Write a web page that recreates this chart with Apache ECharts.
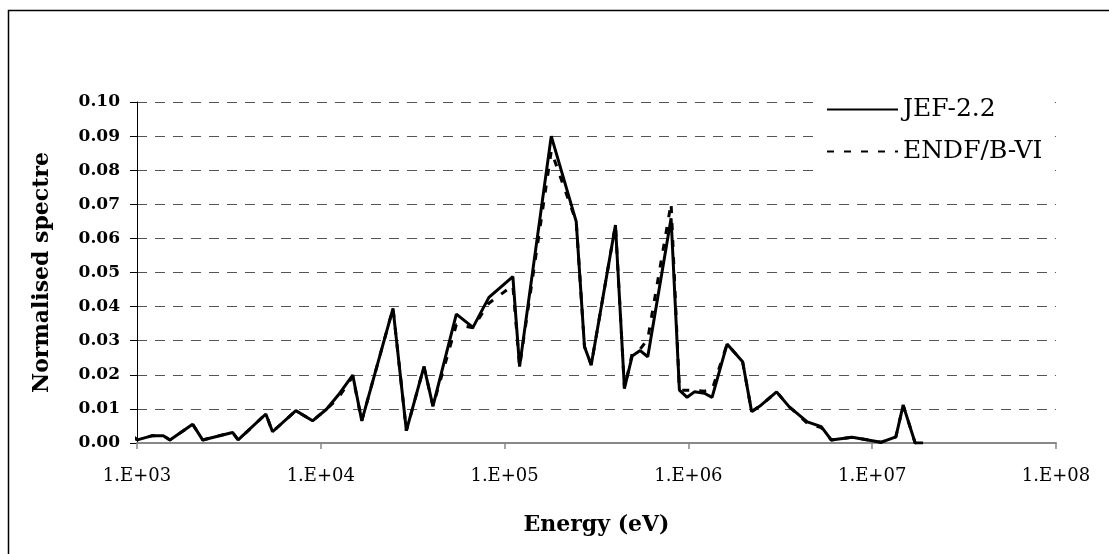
<!DOCTYPE html>
<html>
<head>
<meta charset="utf-8">
<script src="https://cdn.jsdelivr.net/npm/echarts@6/dist/echarts.min.js"></script>
<style>
  html, body { margin: 0; padding: 0; background: #fff; }
  #chart { width: 1109px; height: 554px; }
</style>
</head>
<body>
<div id="chart"></div>
<script>
// energy group points (eV)
var energy = [950, 1004, 1202, 1390, 1511, 2008, 2276, 3311, 3552, 5023,
  5464, 7315, 9015, 10737, 12417, 14925, 16710, 24714, 29220, 36420,
  40760, 54640, 67260, 82150, 110900, 120640, 179400, 245300, 272100, 296000,
  401000, 448800, 494300, 546400, 601000, 805000, 893400, 984000, 1078000, 1222000,
  1345000, 1623000, 1973000, 2208000, 2484000, 3019000, 3539000, 4434000, 5283000, 5984000,
  7787000, 11140000, 13450000, 14740000, 17130000, 18920000];

var jef = [0.0019, 0.0009, 0.0021, 0.0021, 0.0009, 0.0055, 0.0009, 0.0031, 0.0009, 0.0085,
  0.0033, 0.0095, 0.0065, 0.0099, 0.0140, 0.0199, 0.0065, 0.0395, 0.0036, 0.0224,
  0.0108, 0.0378, 0.0339, 0.0427, 0.0488, 0.0224, 0.0900, 0.0649, 0.0282, 0.0229,
  0.0639, 0.0160, 0.0255, 0.0271, 0.0253, 0.0659, 0.0155, 0.0134, 0.0150, 0.0146,
  0.0134, 0.0290, 0.0238, 0.0092, 0.0111, 0.0150, 0.0106, 0.0062, 0.0048, 0.0009,
  0.0017, 0.0002, 0.0018, 0.0111, 0.0000, 0.0000];

var endf = [0.0019, 0.0009, 0.0021, 0.0021, 0.0009, 0.0055, 0.0009, 0.0031, 0.0009, 0.0085,
  0.0033, 0.0095, 0.0065, 0.0099, 0.0131, 0.0195, 0.0065, 0.0395, 0.0036, 0.0224,
  0.0108, 0.0347, 0.0338, 0.0410, 0.0462, 0.0224, 0.0856, 0.0649, 0.0282, 0.0229,
  0.0639, 0.0160, 0.0262, 0.0275, 0.0305, 0.0703, 0.0155, 0.0155, 0.0154, 0.0152,
  0.0156, 0.0290, 0.0238, 0.0092, 0.0111, 0.0150, 0.0106, 0.0058, 0.0045, 0.0009,
  0.0017, 0.0002, 0.0018, 0.0111, 0.0000, 0.0000];

var seriesNames = ['JEF-2.2', 'ENDF/B-VI'];

function pairs(vals) {
    var out = [];
    for (var i = 0; i < energy.length; i++) {
        out.push([energy[i], vals[i]]);
    }
    return out;
}

var font = '"DejaVu Serif", "Liberation Serif", serif';
var chart = echarts.init(document.getElementById('chart'));

var option = {
    backgroundColor: '#fff',
    animation: false,
    grid: { left: 137, right: 53, top: 102, bottom: 111, containLabel: false },
    graphic: [{
        type: 'rect',
        shape: { x: 8.5, y: 10.5, width: 1200, height: 700 },
        style: { fill: 'none', stroke: '#000', lineWidth: 1.5 },
        silent: true
    }],
    legend: {
        orient: 'vertical',
        left: 817,
        top: 94,
        padding: [3, 9, 8, 9],
        backgroundColor: '#fff',
        itemWidth: 71,
        itemHeight: 14,
        itemGap: 17,
        data: seriesNames,
        itemStyle: { opacity: 0 },
        textStyle: { fontFamily: font, fontSize: 25, color: '#000', lineHeight: 25 }
    },
    xAxis: {
        type: 'log',
        logBase: 10,
        min: 1000,
        max: 100000000,
        name: 'Energy (eV)',
        nameLocation: 'middle',
        nameGap: 71,
        nameTextStyle: { fontFamily: font, fontSize: 22, fontWeight: 'bold', color: '#000' },
        axisLine: { lineStyle: { color: '#888', width: 2 } },
        axisTick: { show: true, length: 6, lineStyle: { color: '#888', width: 1.5 } },
        minorTick: { show: false },
        splitLine: { show: false },
        axisLabel: {
            margin: 24,
            fontFamily: font,
            fontSize: 18,
            color: '#000',
            formatter: function (v) {
                var e = Math.round(Math.log(v) / Math.LN10);
                return '1.E+' + (e < 10 ? '0' + e : e);
            }
        }
    },
    yAxis: {
        type: 'value',
        min: 0,
        max: 0.1,
        interval: 0.01,
        name: 'Normalised spectre',
        nameLocation: 'middle',
        nameGap: 84,
        nameTextStyle: { fontFamily: font, fontSize: 22, fontWeight: 'bold', color: '#000' },
        axisLine: { show: true, lineStyle: { color: '#000', width: 1 } },
        axisTick: { show: true, length: 7, lineStyle: { color: '#000', width: 1 } },
        splitLine: { show: true, lineStyle: { color: '#555', type: [10, 8], width: 1 } },
        axisLabel: {
            margin: 17,
            fontFamily: font,
            fontSize: 17,
            fontWeight: 'bold',
            color: '#000',
            formatter: function (v) { return v.toFixed(2); }
        }
    },
    series: [{
        name: 'ENDF/B-VI',
        type: 'line',
        symbol: 'none',
        clip: true,
        z: 2,
        lineStyle: { color: '#000', width: 3, type: [7, 10] },
        itemStyle: { color: '#000' },
        data: pairs(endf)
    }, {
        name: 'JEF-2.2',
        type: 'line',
        symbol: 'none',
        clip: true,
        z: 3,
        lineStyle: { color: '#000', width: 3 },
        itemStyle: { color: '#000' },
        data: pairs(jef)
    }]
};

chart.setOption(option);
</script>
</body>
</html>
